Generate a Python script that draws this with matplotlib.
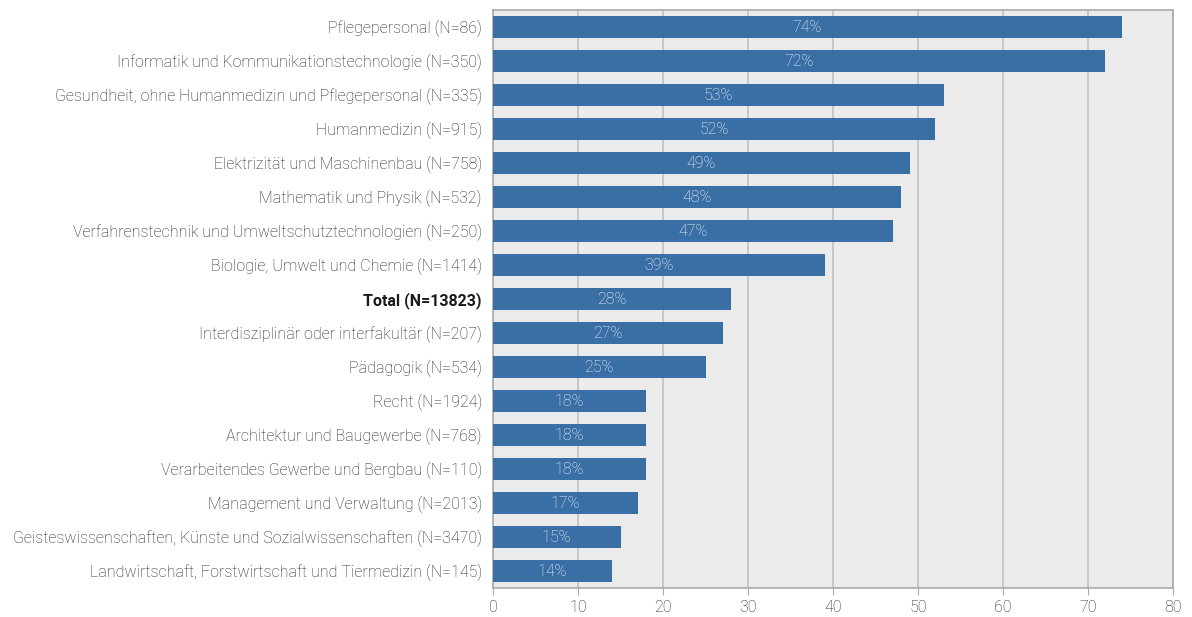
import matplotlib
matplotlib.use("Agg")
import matplotlib.pyplot as plt

categories = [
    "Pflegepersonal (N=86)",
    "Informatik und Kommunikationstechnologie (N=350)",
    "Gesundheit, ohne Humanmedizin und Pflegepersonal (N=335)",
    "Humanmedizin (N=915)",
    "Elektrizität und Maschinenbau (N=758)",
    "Mathematik und Physik (N=532)",
    "Verfahrenstechnik und Umweltschutztechnologien (N=250)",
    "Biologie, Umwelt und Chemie (N=1414)",
    "Total (N=13823)",
    "Interdisziplinär oder interfakultär (N=207)",
    "Pädagogik (N=534)",
    "Recht (N=1924)",
    "Architektur und Baugewerbe (N=768)",
    "Verarbeitendes Gewerbe und Bergbau (N=110)",
    "Management und Verwaltung (N=2013)",
    "Geisteswissenschaften, Künste und Sozialwissenschaften (N=3470)",
    "Landwirtschaft, Forstwirtschaft und Tiermedizin (N=145)",
]
values = [74, 72, 53, 52, 49, 48, 47, 39, 28, 27, 25, 18, 18, 18, 17, 15, 14]
xticks = [0, 10, 20, 30, 40, 50, 60, 70, 80]

plt.rcParams['font.family'] = ['Roboto', 'DejaVu Sans']

fig = plt.figure(figsize=(11.92, 6.17), dpi=100)
ax = fig.add_axes([493/1192, 1-588/617, (1173-493)/1192, (588-10)/617])
ax.set_facecolor('#ebebeb')

ypos = list(range(len(categories)))
ax.barh(ypos, values, height=0.64, color='#3a6fa6', zorder=3)
for y, v in zip(ypos, values):
    ax.text(v/2, y, f"{v}%", ha='center', va='center', color='#f2f6fa',
            fontsize=11.5, fontweight='light', zorder=4)

ax.set_ylim(len(categories)-0.5, -0.5)
ax.set_xlim(0, 80)
ax.set_xticks(xticks)
ax.set_xticklabels([str(t) for t in xticks], fontsize=11.5, fontweight='light', color='#222222')
ax.set_yticks(ypos)
ax.set_yticklabels(categories, fontsize=11.5, fontweight='light', color='#222222')
for lbl in ax.get_yticklabels():
    if lbl.get_text().startswith("Total"):
        lbl.set_fontweight('bold')
        lbl.set_color('#1a1a1a')
ax.tick_params(axis='y', length=0, pad=8)
ax.tick_params(axis='x', length=5, color='#aaaaaa', pad=4)
ax.xaxis.grid(True, color='#c0c0c0', linewidth=1.2, zorder=1)
ax.set_axisbelow(True)
for side in ['top', 'right', 'left', 'bottom']:
    ax.spines[side].set_color('#aaaaaa')
    ax.spines[side].set_linewidth(1.2)

fig.savefig("out.png", dpi=100)
